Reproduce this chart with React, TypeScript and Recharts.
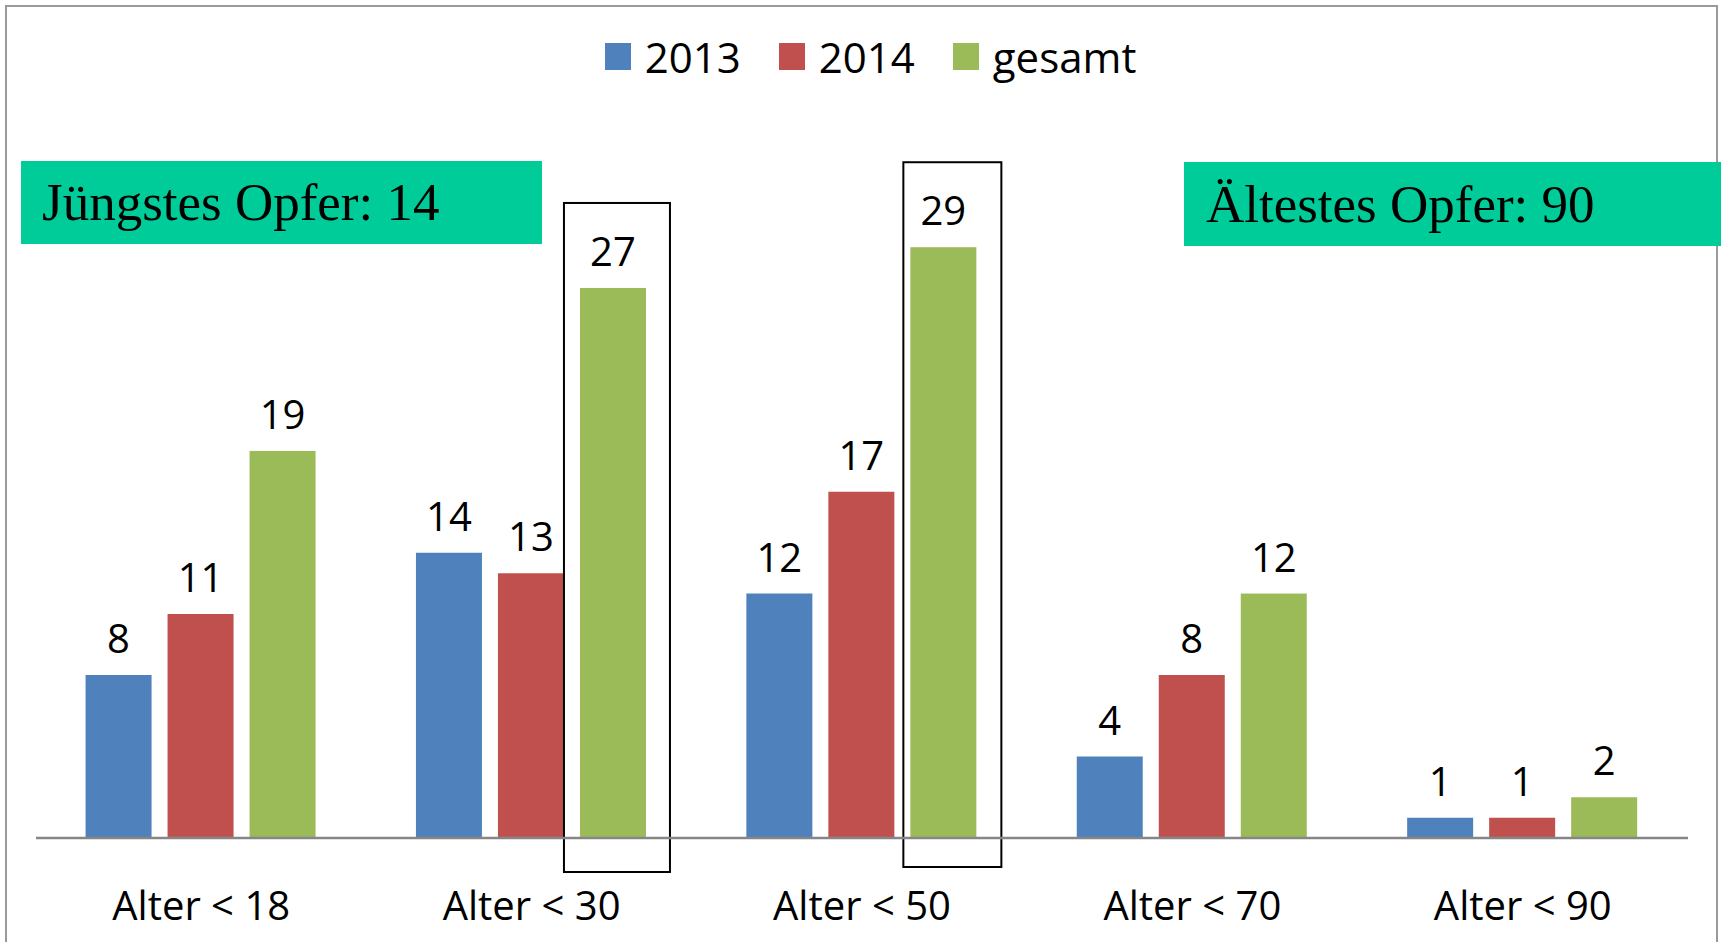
import { Bar, BarChart, LabelList, XAxis, YAxis } from "recharts";

const categories = ["Alter < 18", "Alter < 30", "Alter < 50", "Alter < 70", "Alter < 90"];
const values2013 = [8, 14, 12, 4, 1];
const values2014 = [11, 13, 17, 8, 1];
const valuesGesamt = [19, 27, 29, 12, 2];

const seriesNames = ["2013", "2014", "gesamt"];
const COLORS = ["#4F81BD", "#C0504D", "#9BBB59"];

// hand-drawn outline boxes around the two biggest "gesamt" bars
const HIGHLIGHT: Record<string, { l: number; r: number; t: number; b: number }> = {
  "Alter < 30": { l: 16, r: 24, t: 85, b: 34 },
  "Alter < 50": { l: 7, r: 25, t: 85, b: 29 },
};

const data = categories.map((name, i) => ({
  name,
  y2013: values2013[i],
  y2014: values2014[i],
  gesamt: valuesGesamt[i],
}));

const FONT = "'Open Sans', sans-serif";

const GesamtShape = (props: any) => {
  const { x, y, width, height, fill, payload } = props;
  const hl = payload && HIGHLIGHT[payload.name];
  return (
    <g>
      <rect x={x} y={y} width={width} height={height} fill={fill} />
      {hl && (
        <rect
          x={x - hl.l}
          y={y - hl.t}
          width={width + hl.l + hl.r}
          height={height + hl.t + hl.b}
          fill="none"
          stroke="#000"
          strokeWidth={2}
        />
      )}
    </g>
  );
};

export default function App() {
  const labelStyle = { fontFamily: FONT, fontSize: 40, fill: "#000" };

  return (
    <div
      style={{
        position: "absolute",
        left: 0,
        top: 0,
        width: 1721,
        height: 942,
        overflow: "hidden",
        background: "#fff",
      }}
    >
      {/* chart frame */}
      <div
        style={{
          position: "absolute",
          left: 5,
          top: 5,
          width: 1709,
          height: 950,
          border: "2px solid #9a9a9a",
        }}
      />

      <BarChart
        width={1721}
        height={942}
        data={data}
        margin={{ top: 125, right: 33, bottom: 4, left: 36 }}
        barCategoryGap="15%"
        barGap={16}
        style={{ position: "absolute", left: 0, top: 0 }}
      >
        <YAxis hide domain={[0, 35]} />
        <XAxis
          dataKey="name"
          height={100}
          tickSize={0}
          tickMargin={54}
          axisLine={{ stroke: "#868686", strokeWidth: 2.5 }}
          tick={{ fontFamily: FONT, fontSize: 40, fill: "#000" }}
          interval={0}
        />
        <Bar dataKey="y2013" fill={COLORS[0]} isAnimationActive={false}>
          <LabelList dataKey="y2013" position="top" offset={22} style={labelStyle} />
        </Bar>
        <Bar dataKey="y2014" fill={COLORS[1]} isAnimationActive={false}>
          <LabelList dataKey="y2014" position="top" offset={22} style={labelStyle} />
        </Bar>
        <Bar dataKey="gesamt" fill={COLORS[2]} shape={GesamtShape} isAnimationActive={false}>
          <LabelList dataKey="gesamt" position="top" offset={22} style={labelStyle} />
        </Bar>
      </BarChart>

      {/* Legend */}
      <div
        style={{
          position: "absolute",
          left: 0,
          top: 28,
          width: 1741,
          display: "flex",
          justifyContent: "center",
          alignItems: "center",
          fontFamily: FONT,
          fontSize: 42,
          color: "#000",
        }}
      >
        {seriesNames.map((s, i) => (
          <div key={s} style={{ display: "flex", alignItems: "center", marginRight: i < 2 ? 38 : 0 }}>
            <div style={{ width: 26, height: 27, background: COLORS[i], marginRight: 14 }} />
            <span>{s}</span>
          </div>
        ))}
      </div>

      {/* Annotation boxes */}
      <div
        style={{
          position: "absolute",
          left: 21,
          top: 161,
          width: 521,
          height: 83,
          background: "#00CC99",
          fontFamily: "'Liberation Serif', 'Times New Roman', serif",
          fontSize: 53,
          lineHeight: "83px",
          paddingLeft: 21,
          boxSizing: "border-box",
          color: "#000",
        }}
      >
        Jüngstes Opfer: 14
      </div>
      <div
        style={{
          position: "absolute",
          left: 1184,
          top: 162,
          width: 537,
          height: 84,
          background: "#00CC99",
          fontFamily: "'Liberation Serif', 'Times New Roman', serif",
          fontSize: 53,
          lineHeight: "84px",
          paddingLeft: 22,
          boxSizing: "border-box",
          color: "#000",
        }}
      >
        Ältestes Opfer: 90
      </div>
    </div>
  );
}
